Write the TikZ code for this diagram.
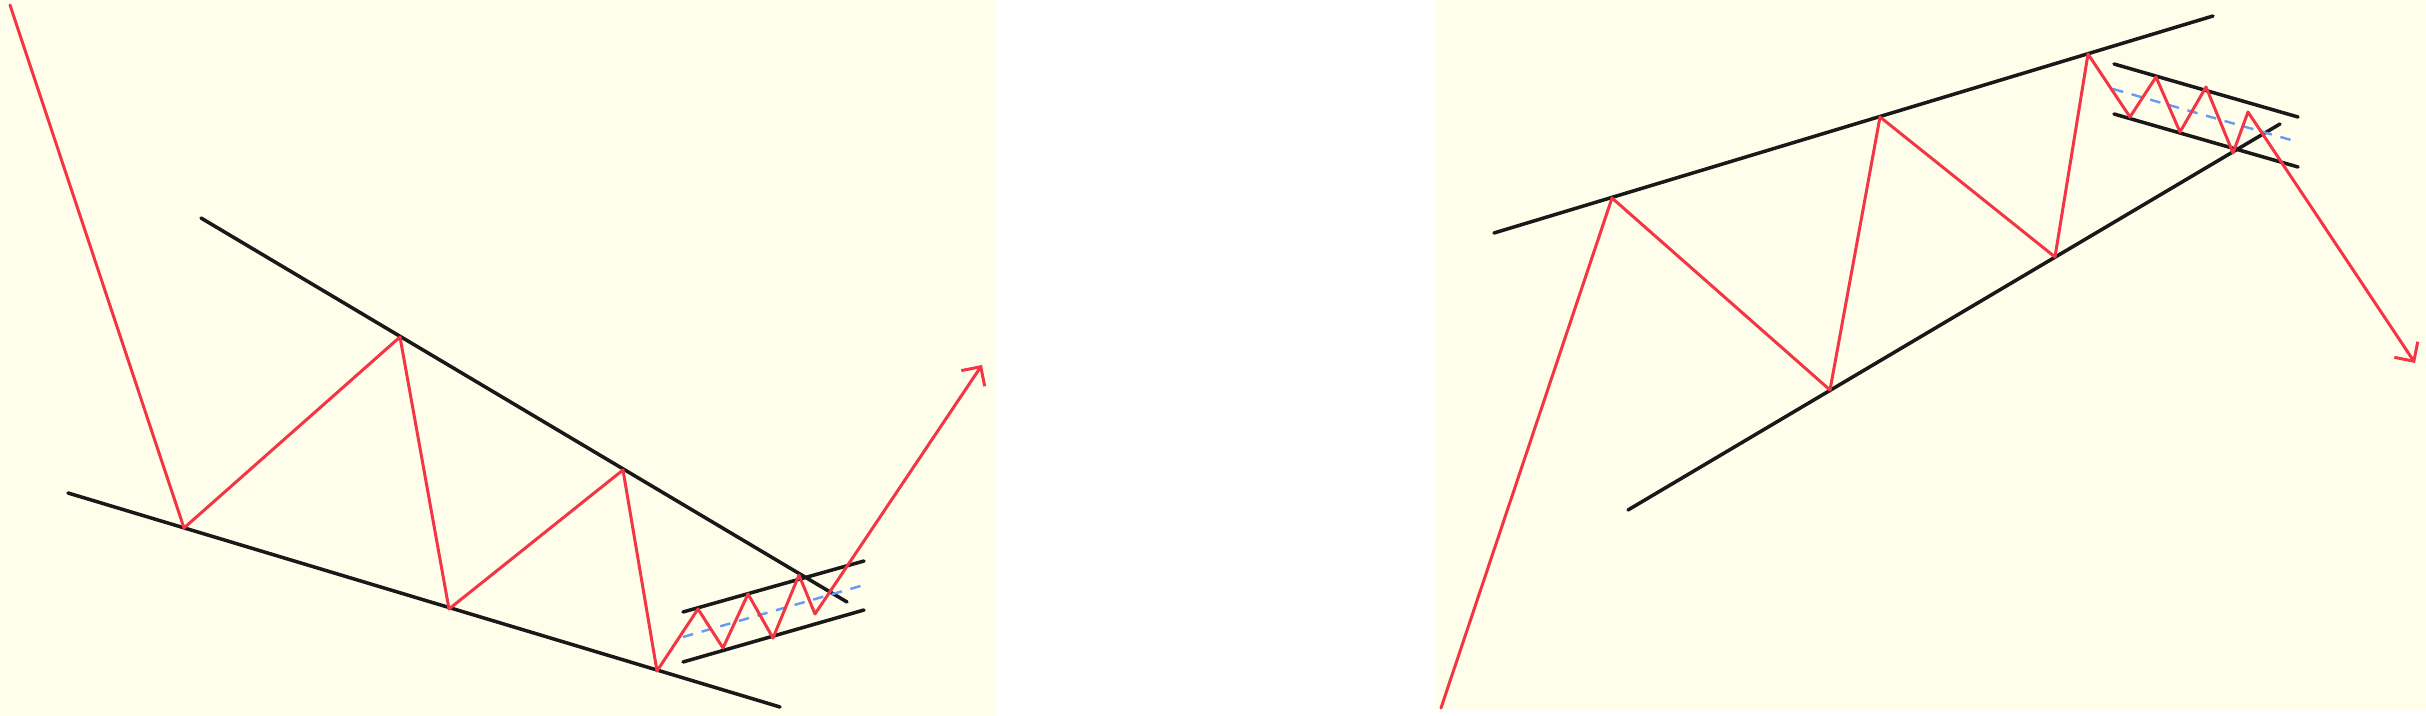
\documentclass[tikz,border=0pt]{standalone}
\usetikzlibrary{arrows.meta}
\definecolor{cream}{HTML}{FFFEEB}
\definecolor{bear}{HTML}{F23645}
\definecolor{midblue}{HTML}{6A9BF4}
\begin{document}
\begin{tikzpicture}[x=0.01cm, y=-0.01cm]
	\tikzstyle{trend} = [draw=black!90, line width=1pt, line cap=round];
	\tikzstyle{price} = [draw=bear, line width=0.85pt, line join=round, line cap=round];
	\tikzstyle{midline} = [draw=midblue, line width=0.7pt, dash pattern=on 3pt off 2.5pt];
	\tikzstyle{tip} = [-{Straight Barb[length=4pt, width=8pt]}];
	\useasboundingbox (0,0) rectangle (2426,716);
	\fill[cream] (0,0) rectangle (996,716);
	\fill[cream] (1436,0) rectangle (2426,709);

	% falling wedge + bull flag
	\coordinate (supA) at (68,493);
	\coordinate (supB) at (780,707);
	\coordinate (resA) at (201,218);
	\coordinate (resB) at (847,602);
	\coordinate (flagTopA) at (683,612);
	\coordinate (flagTopB) at (864,561);
	\coordinate (flagBotA) at (683,662);
	\coordinate (flagBotB) at (864,610);
	\coordinate (flagMidA) at (683,637);
	\coordinate (flagMidB) at (864,585);
	\coordinate (L0) at (10,5);
	\coordinate (L1) at (184,528);
	\coordinate (L2) at (400,337);
	\coordinate (L3) at (449,609);
	\coordinate (L4) at (623,470);
	\coordinate (L5) at (657,671);
	\coordinate (L6) at (698,609);
	\coordinate (L7) at (723,648);
	\coordinate (L8) at (748,594);
	\coordinate (L9) at (773,638);
	\coordinate (L10) at (799,575);
	\coordinate (L11) at (815,614);
	\coordinate (L12) at (982,365);

	\draw[trend] (supA) -- (supB);
	\draw[trend] (resA) -- (resB);
	\draw[trend] (flagTopA) -- (flagTopB);
	\draw[trend] (flagBotA) -- (flagBotB);
	\draw[midline] (flagMidA) -- (flagMidB);
	\draw[price, tip] (L0) -- (L1) -- (L2) -- (L3) -- (L4) -- (L5) -- (L6) -- (L7) -- (L8) -- (L9) -- (L10) -- (L11) -- (L12);

	% rising wedge + bear flag
	\coordinate (upA) at (1494,233);
	\coordinate (upB) at (2213,16);
	\coordinate (lowA) at (1628,510);
	\coordinate (lowB) at (2280,124);
	\coordinate (bflagTopA) at (2114,64);
	\coordinate (bflagTopB) at (2298,117);
	\coordinate (bflagBotA) at (2114,114);
	\coordinate (bflagBotB) at (2298,167);
	\coordinate (bflagMidA) at (2113,89);
	\coordinate (bflagMidB) at (2298,142);
	\coordinate (R0) at (1441,708);
	\coordinate (R1) at (1612,198);
	\coordinate (R2) at (1830,390);
	\coordinate (R3) at (1880,117);
	\coordinate (R4) at (2055,257);
	\coordinate (R5) at (2088,54);
	\coordinate (R6) at (2130,117);
	\coordinate (R7) at (2156,77);
	\coordinate (R8) at (2180,132);
	\coordinate (R9) at (2206,87);
	\coordinate (R10) at (2233,153);
	\coordinate (R11) at (2248,112);
	\coordinate (R12) at (2415,363);

	\draw[trend] (upA) -- (upB);
	\draw[trend] (lowA) -- (lowB);
	\draw[trend] (bflagTopA) -- (bflagTopB);
	\draw[trend] (bflagBotA) -- (bflagBotB);
	\draw[midline] (bflagMidA) -- (bflagMidB);
	\draw[price, tip] (R0) -- (R1) -- (R2) -- (R3) -- (R4) -- (R5) -- (R6) -- (R7) -- (R8) -- (R9) -- (R10) -- (R11) -- (R12);
\end{tikzpicture}
\end{document}
